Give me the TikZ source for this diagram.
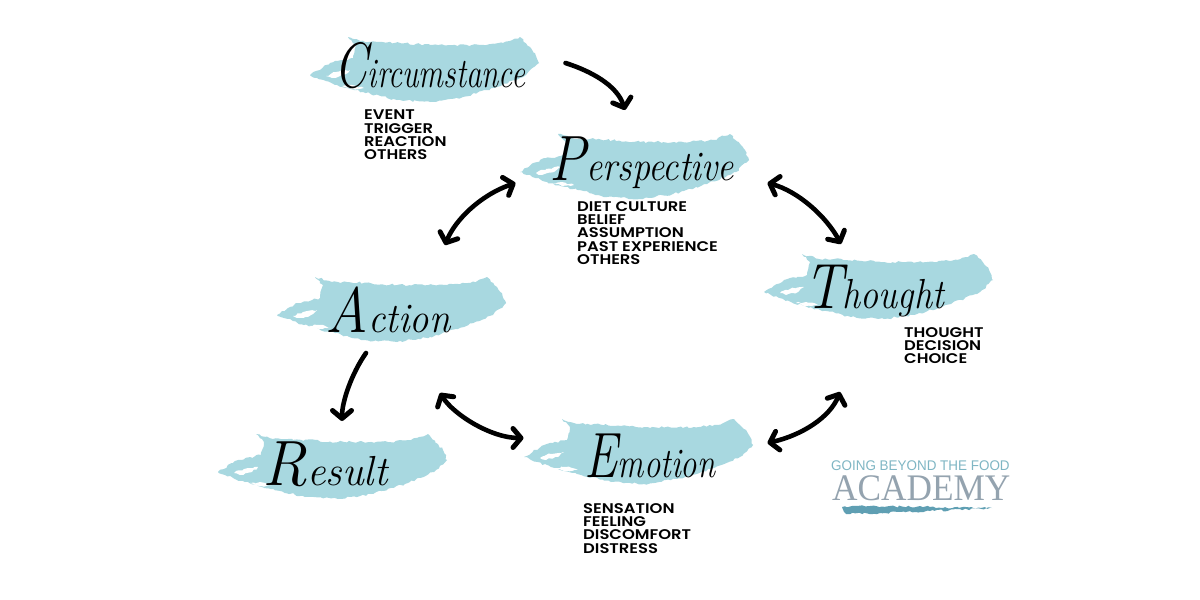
\documentclass[tikz,border=0pt]{standalone}
\usepackage{fontspec}
\setmainfont{Poppins}
\newfontfamily\scriptfam{Latin Modern Roman}
\newfontfamily\listfam{Poppins SemiBold}[FakeStretch=1.17]
\newfontfamily\logosans{Liberation Sans}
\newfontfamily\logoserif{Liberation Serif}
\usetikzlibrary{arrows.meta,decorations.pathmorphing}
\definecolor{brushblue}{HTML}{A8D8E0}
\definecolor{logoblue}{HTML}{7FB6C4}
\definecolor{logogrey}{HTML}{94A3AF}
\definecolor{logostroke}{HTML}{5F9FB3}
\newcommand{\titleword}[3]{\scalebox{#1}[1]{\fontsize{64}{64}\selectfont #2\fontsize{42}{42}\selectfont #3}}
\tikzset{
  x=1pt,y=-1pt,
  rough/.style={decorate,decoration={random steps,segment length=3pt,amplitude=1.1pt}},
  pics/brush/.style={code={
    \fill[brushblue,rough]
      (0,0) -- (20,-12) -- (43,-17) -- (46,-30) -- (38,-38) -- (55,-33) -- (70,-33) -- (120,-30) -- (170,-30) -- (193,-32) -- (210,-38) -- (220,-28) -- (225,-22) -- (229,-12) -- (216,0) -- (187,12) -- (153,22) -- (120,27) -- (87,25) -- (53,17) -- (27,10) -- (7,3) -- cycle;
    \fill[white,rough] (16,1) -- (26,-3) -- (40,-5) -- (34,0) -- (22,3) -- cycle;
    \fill[white,rough] (32,11) -- (42,10) -- (54,13) -- (42,14) -- cycle;
  }},
  brushbox/.style={minimum width=229pt,minimum height=66pt,inner sep=0pt,outer sep=0pt},
  scripttitle/.style={font=\scriptfam\itshape,inner sep=0pt,text=black},
  listtext/.style={font=\listfam\fontsize{14}{13.3}\selectfont,align=left,inner sep=0pt,anchor=north west,text=black},
  loopline/.style={line width=4.6pt,line cap=round,line join=round,black},
  onehead/.style={loopline,-{Straight Barb[length=8pt,width=19pt,line width=5pt,round]}},
  twohead/.style={loopline,{Straight Barb[length=8pt,width=19pt,line width=5pt,round]}-{Straight Barb[length=8pt,width=19pt,line width=5pt,round]}},
}
\begin{document}
\begin{tikzpicture}
\useasboundingbox (0,0) rectangle (1200,600);
\fill[white] (0,0) rectangle (1200,600);
% brushes
\pic at (310,75) {brush};
\pic at (520,172) {brush};
\pic at (764,292) {brush};
\pic at (277,315) {brush};
\pic at (524,457) {brush};
\pic at (218,472) {brush};
% title nodes (box = brush extent)
\node[brushbox] (circ) at (425,68) {};
\node[brushbox] (persp) at (634,163) {};
\node[brushbox] (thought) at (878,285) {};
\node[brushbox] (action) at (391,308) {};
\node[brushbox] (emotion) at (638,450) {};
\node[brushbox] (result) at (332,465) {};
\node[scripttitle] (tcirc) at (430,66) {\titleword{.74}{C}{ircumstance}};
\node[scripttitle] (tpersp) at (642,163) {\titleword{.86}{P}{erspective}};
\node[scripttitle] (tthought) at (874,291) {\titleword{.86}{T}{hought}};
\node[scripttitle] (taction) at (388,310) {\titleword{.92}{A}{ction}};
\node[scripttitle] (temotion) at (650,456) {\titleword{.78}{E}{motion}};
\node[scripttitle] (tresult) at (325,464) {\titleword{.98}{R}{esult}};
% lists
\node[listtext] (l1) at (364,110) {EVENT\\TRIGGER\\REACTION\\OTHERS};
\node[listtext] (l2) at (577,201) {DIET CULTURE\\BELIEF\\ASSUMPTION\\PAST EXPERIENCE\\OTHERS};
\node[listtext] (l3) at (904,327) {THOUGHT\\DECISION\\CHOICE};
\node[listtext] (l4) at (583,503) {SENSATION\\FEELING\\DISCOMFORT\\DISTRESS};
% arrows
\draw[onehead] ([shift={(26,-5)}]circ.east) .. controls +(25,8) and +(-8,-25) .. ([shift={(-9,-20)}]persp.north);
\draw[twohead] ([shift={(-4,20)}]persp.west) .. controls +(-35,12) and +(10,-25) .. ([shift={(54,-30)}]action.north);
\draw[twohead] ([shift={(19,20)}]persp.east) .. controls +(30,8) and +(-15,-28) .. ([shift={(-37,-8)}]thought.north);
\draw[onehead] ([shift={(-25,12)}]action.south) .. controls +(-14,20) and +(0,-20) .. ([shift={(10,-11)}]result.north);
\draw[twohead] ([shift={(49,52)}]action.south) .. controls +(14,22) and +(-32,0) .. ([shift={(0,-12)}]emotion.west);
\draw[twohead] ([shift={(15,-7)}]emotion.east) .. controls +(35,-8) and +(-10,25) .. ([shift={(-38,74)}]thought.south);
% logo
\node[font=\logosans\fontsize{14}{14}\selectfont,text=logoblue,inner sep=0pt,anchor=base west] (logo1) at (831,470) {\scalebox{.96}[1]{GOING BEYOND THE FOOD}};
\node[font=\logoserif\fontsize{37.5}{37.5}\selectfont,text=logogrey,inner sep=0pt,anchor=base west] (logo2) at (832,500) {\scalebox{.94}[1]{ACADEMY}};
\fill[logostroke,rough] (842,507) -- (870,506) -- (930,507) -- (992,508) -- (930,511) -- (880,513) -- (846,514) -- cycle;
\end{tikzpicture}
\end{document}
